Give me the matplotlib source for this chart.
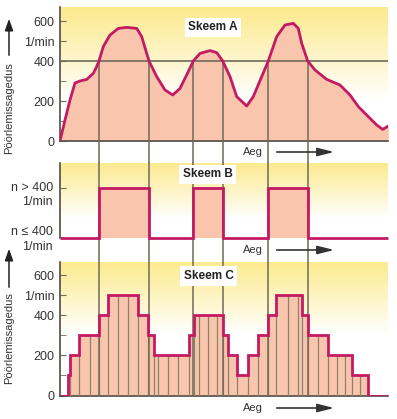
import numpy as np
import matplotlib
matplotlib.use("Agg")
import matplotlib.pyplot as plt
from matplotlib.patches import FancyArrowPatch

# -------------------------------------------------
# Andmed (aeg suvalistes ühikutes, pöörlemissagedus 1/min)
# -------------------------------------------------
T_MAX = 32.8
THRESHOLD = 400

# Skeem A: pidev kõver
curve_t = [0, 0.5, 1.0, 1.5, 2.0, 2.67, 3.33, 3.67, 3.9, 4.33, 5.0, 5.83, 6.67, 7.67,
           8.17, 8.67, 8.9, 9.67, 10.5, 11.27, 12.0, 12.83, 13.33, 14.0, 15.0, 15.67,
           16.27, 17.0, 17.67, 18.67, 19.33, 20.17, 20.83, 21.67, 22.5, 23.33, 23.83,
           24.17, 24.77, 25.5, 26.67, 28.0, 29.0, 29.83, 30.67, 31.67, 32.27, 32.83]
curve_n = [0, 105, 205, 290, 300, 308, 338, 372, 400, 472, 530, 563, 568, 563,
           522, 438, 400, 322, 255, 230, 263, 347, 400, 438, 452, 442,
           400, 322, 222, 175, 222, 322, 400, 522, 580, 588, 563,
           488, 400, 355, 308, 280, 230, 172, 130, 80, 58, 75]

# lõikepunktid piiriga 400 1/min
crossings = [3.9, 8.9, 13.33, 16.27, 20.83, 24.77]

# Skeem B: kahe olekuga signaal (0 = n <= 400, 1 = n > 400)
b_edges = [0, 3.9, 8.9, 13.33, 16.27, 20.83, 24.77, T_MAX]
b_state = [0, 1, 0, 1, 0, 1, 0]

# Skeem C: astmeline (diskreetne) signaal
c_edges = [0, 0.77, 1.0, 1.93, 3.0, 3.93, 4.8, 5.83, 6.83, 7.83, 8.83, 9.4, 9.83,
           10.83, 11.83, 12.93, 13.4, 13.93, 14.83, 15.73, 16.27, 16.83, 17.73,
           18.83, 19.83, 20.83, 21.6, 22.77, 23.77, 24.23, 24.83, 25.83, 26.83,
           27.67, 28.5, 29.23, 30.0, 30.77, T_MAX]
c_values = [0, 100, 200, 300, 300, 400, 500, 500, 500, 400, 300, 200, 200, 200, 200,
            300, 400, 400, 400, 400, 300, 200, 100, 200, 300, 400, 500, 500, 500, 400,
            300, 300, 200, 200, 200, 100, 100, 0]

# -------------------------------------------------
# Stiil
# -------------------------------------------------
YELLOW = (0.99, 0.92, 0.55)
SALMON = "#f9c6ad"
MAGENTA = "#c41a62"
OLIVE = "#6f6b55"
BAR_LINE = "#8f8068"
SPINE = "#4f4d44"
TEXT = "#333333"

plt.rcParams["font.family"] = ["Liberation Sans", "DejaVu Sans"]

W, H = 397, 419
fig = plt.figure(figsize=(W / 100, H / 100), dpi=100)


def box(l, t, r, b):
    return [l / W, 1 - b / H, (r - l) / W, (b - t) / H]


def fx(px):
    return px / W


def fy(py):
    return 1 - py / H


def add_gradient(ax, ytop, fade):
    n = 256
    a = np.linspace(0, 1, n)
    img = np.zeros((n, 1, 4))
    img[..., 0], img[..., 1], img[..., 2] = YELLOW
    img[:, 0, 3] = np.clip((a - fade) / (1 - fade), 0, 1)
    ax.imshow(img, extent=[0, T_MAX, 0, ytop], origin="lower", aspect="auto",
              zorder=0, interpolation="bilinear")


def style_axes(ax, ytop):
    ax.set_xlim(0, T_MAX)
    ax.set_ylim(0, ytop)
    for s in ("top", "right"):
        ax.spines[s].set_visible(False)
    for s in ("left", "bottom"):
        ax.spines[s].set_color(SPINE)
        ax.spines[s].set_linewidth(1.2)
    ax.set_xticks([])
    ax.tick_params(axis="y", which="both", direction="in", color=OLIVE,
                   labelsize=9, labelcolor=TEXT, pad=4, length=4)


def speed_ticks(ax):
    ax.set_yticks([0, 200, 400, 500, 600])
    ax.set_yticklabels(["0", "200", "400", "1/min", "600"])
    ax.set_yticks([100, 300], minor=True)


def title(ax, x, y, s):
    ax.text(x, y, s, transform=ax.transAxes, ha="center", va="center",
            fontsize=8.5, fontweight="bold", color="#222222", zorder=10,
            bbox=dict(boxstyle="square,pad=0.3", fc="white", ec="none"))


# ---------------- Skeem A ----------------
axA = fig.add_axes(box(60, 7, 388, 141))
A_TOP = 670
add_gradient(axA, A_TOP, 0.3)
axA.fill_between(curve_t, curve_n, color=SALMON, zorder=2, lw=0)
axA.axhline(THRESHOLD, color=OLIVE, lw=1.2, zorder=3)
for c in crossings:
    axA.plot([c, c], [-110, THRESHOLD], color=OLIVE, lw=1.1, zorder=3, clip_on=False)
axA.plot(curve_t, curve_n, color=MAGENTA, lw=2, zorder=5, solid_joinstyle="round",
         solid_capstyle="round")
style_axes(axA, A_TOP)
speed_ticks(axA)
title(axA, 0.466, 0.85, "Skeem A")

# ---------------- Skeem B ----------------
axB = fig.add_axes(box(60, 163, 388, 238))
B_TOP = 1.51
add_gradient(axB, B_TOP, 0.25)
axB.stairs(b_state, b_edges, fill=True, color=SALMON, zorder=2)
for c in crossings:
    axB.plot([c, c], [-0.5, B_TOP], color=OLIVE, lw=1.1, zorder=3, clip_on=False)
axB.stairs(b_state, b_edges, color=MAGENTA, lw=2, baseline=None, zorder=5,
           clip_on=False)
style_axes(axB, B_TOP)
axB.spines["bottom"].set_visible(False)
axB.set_yticks([1])
axB.set_yticklabels([""])
blend = axB.get_yaxis_transform()
axB.text(-0.022, 1.0, "n > 400", transform=blend, ha="right", va="center",
         fontsize=9, color=TEXT)
axB.text(-0.022, 0.72, "1/min", transform=blend, ha="right", va="center",
         fontsize=9, color=TEXT)
axB.text(-0.022, 0.13, "n \u2264 400", transform=blend, ha="right", va="center",
         fontsize=9, color=TEXT)
axB.text(-0.022, -0.18, "1/min", transform=blend, ha="right", va="center",
         fontsize=9, color=TEXT)
title(axB, 0.451, 0.85, "Skeem B")

# ---------------- Skeem C ----------------
axC = fig.add_axes(box(60, 262, 388, 395.5))
C_TOP = 667
add_gradient(axC, C_TOP, 0.45)
axC.stairs(c_values, c_edges, fill=True, color=SALMON, zorder=2)
vals = np.array(c_values)
inner_h = np.minimum(vals[:-1], vals[1:])
axC.vlines(c_edges[1:-1], 0, inner_h, color=BAR_LINE, lw=0.9, zorder=3)
for c in crossings:
    axC.plot([c, c], [0, C_TOP], color=OLIVE, lw=1.1, zorder=3)
axC.stairs(c_values, c_edges, color=MAGENTA, lw=2, baseline=None, zorder=5)
style_axes(axC, C_TOP)
speed_ticks(axC)
title(axC, 0.454, 0.895, "Skeem C")

# ---------------- Telje nimed ja nooled ----------------
for ylab, (a0, a1) in ((108, (58, 16)), (338, (290, 246))):
    fig.text(fx(9), fy(ylab), "Pöörlemissagedus", rotation=90, ha="center",
             va="center", fontsize=8, color=TEXT)
    fig.add_artist(FancyArrowPatch((fx(9), fy(a0)), (fx(9), fy(a1)),
                                   transform=fig.transFigure,
                                   arrowstyle="-|>,head_length=0.7,head_width=0.25",
                                   mutation_scale=10, color="#222222", lw=1.1))

for ya in (152, 250, 408):
    fig.text(fx(253), fy(ya), "Aeg", ha="center", va="center", fontsize=8,
             color=TEXT, bbox=dict(boxstyle="square,pad=0.15", fc="white", ec="none"))
    fig.add_artist(FancyArrowPatch((fx(274), fy(ya)), (fx(337), fy(ya)),
                                   transform=fig.transFigure,
                                   arrowstyle="-|>,head_length=1.0,head_width=0.25",
                                   mutation_scale=10, color="#333333", lw=1.2))

fig.savefig("out.png", dpi=100, facecolor="white")
